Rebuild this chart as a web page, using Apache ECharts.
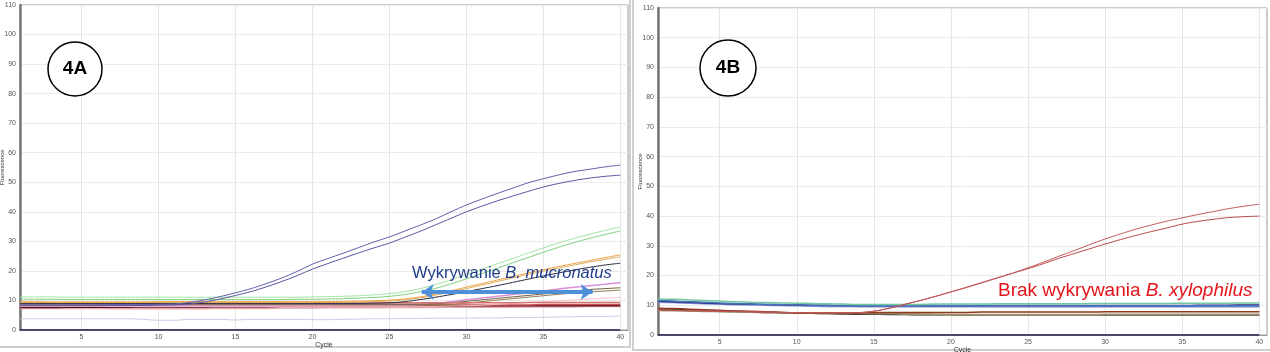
<!DOCTYPE html>
<html>
<head>
<meta charset="utf-8">
<script src="https://cdn.jsdelivr.net/npm/echarts@6/dist/echarts.min.js"></script>
<style>
  html, body { margin: 0; padding: 0; background: #fff; }
  #chart { width: 1270px; height: 352px; }
</style>
</head>
<body>
<div id="chart"></div>
<script>
// cycles 1..40
var cycles = [1,2,3,4,5,6,7,8,9,10,11,12,13,14,15,16,17,18,19,20,
              21,22,23,24,25,26,27,28,29,30,31,32,33,34,35,36,37,38,39,40];
var cycleTicks = [5,10,15,20,25,30,35,40];

// ---- panel 4A ----
var blueA1 = [8.5,8.5,8.5,8.5,8.5,8.5,8.6,8.6,8.6,8.7,8.8,9.3,10.2,11.3,12.6,14.0,15.7,17.6,19.8,22.3,
              24.2,26.0,27.9,29.8,31.5,33.5,35.5,37.6,40.0,42.3,44.3,46.2,48.0,49.8,51.2,52.5,53.6,54.4,55.2,55.8];
var blueA2 = [8.2,8.2,8.2,8.2,8.2,8.2,8.3,8.3,8.3,8.4,8.5,8.8,9.5,10.5,11.7,13.0,14.6,16.4,18.4,20.6,
              22.5,24.3,26.1,27.8,29.4,31.4,33.4,35.6,37.8,40.0,41.9,43.7,45.3,46.9,48.4,49.6,50.6,51.4,52.0,52.4];
var greenA1 = [11.2,11.2,11.2,11.1,11.1,11.1,11.1,11.1,11.1,11.1,11.1,11.1,11.1,11.1,11.1,11.1,11.1,11.1,11.1,11.2,
               11.3,11.4,11.6,11.9,12.3,13.0,14.0,15.4,17.0,18.8,20.6,22.4,24.2,26.0,27.8,29.5,31.0,32.4,33.7,34.9];
var greenA2 = [10.4,10.4,10.4,10.3,10.3,10.3,10.3,10.3,10.3,10.3,10.3,10.3,10.3,10.3,10.3,10.3,10.3,10.3,10.4,10.4,
               10.5,10.6,10.8,11.0,11.4,12.0,12.9,14.1,15.6,17.3,19.1,20.9,22.7,24.5,26.3,28.0,29.6,31.0,32.3,33.5];
var orangeA = [9.6,9.6,9.5,9.5,9.5,9.5,9.5,9.5,9.5,9.6,9.6,9.6,9.6,9.6,9.6,9.6,9.6,9.6,9.6,9.6,
               9.6,9.7,9.8,9.9,10.1,10.5,11.2,12.2,13.3,14.5,15.7,16.9,18.1,19.3,20.4,21.5,22.5,23.5,24.5,25.4];
var tanA = [9.3,9.3,9.3,9.3,9.3,9.3,9.3,9.3,9.3,9.3,9.3,9.3,9.3,9.3,9.3,9.3,9.3,9.3,9.3,9.3,
            9.4,9.4,9.5,9.6,9.8,10.2,10.9,11.8,12.9,14.0,15.2,16.4,17.6,18.8,19.9,21.0,22.0,23.0,23.9,24.8];
var blackA = [9.0,9.0,9.0,9.0,9.0,9.0,9.0,9.0,9.0,9.0,9.0,9.0,9.0,9.0,9.0,9.0,9.0,9.0,9.0,9.0,
              9.0,9.0,9.0,9.1,9.2,9.6,10.3,11.1,12.0,13.0,14.0,15.0,16.1,17.2,18.3,19.3,20.3,21.2,22.0,22.6];
var violetA = [8.0,8.0,8.0,8.0,8.0,8.0,8.1,8.1,8.1,8.2,8.2,8.2,8.2,8.3,8.3,8.3,8.3,8.4,8.4,8.4,
               8.4,8.5,8.5,8.5,8.5,8.5,8.6,9.0,9.6,10.2,10.8,11.4,12.0,12.6,13.2,13.9,14.5,15.0,15.5,16.0];
var oliveA1 = [8.8,8.8,8.8,8.8,8.8,8.8,8.8,8.8,8.8,8.8,8.8,8.8,8.8,8.8,8.8,8.8,8.8,8.8,8.8,8.8,
               8.8,8.8,8.8,8.8,8.8,8.8,8.8,8.9,9.2,9.7,10.2,10.7,11.2,11.7,12.2,12.7,13.2,13.7,14.0,14.3];
var oliveA2 = [8.6,8.6,8.6,8.6,8.6,8.6,8.6,8.6,8.6,8.6,8.6,8.6,8.6,8.6,8.6,8.6,8.6,8.6,8.6,8.6,
               8.6,8.6,8.6,8.6,8.6,8.6,8.6,8.6,8.7,9.1,9.6,10.1,10.6,11.1,11.6,12.1,12.5,12.9,13.2,13.5];
var lightPinkA = [8.0,8.0,8.0,8.0,8.0,8.0,8.0,8.0,8.0,8.0,8.0,8.0,8.0,8.0,8.0,8.0,8.0,8.0,8.0,8.0,
                  8.0,8.0,8.0,8.0,8.0,8.0,8.0,8.0,8.1,8.2,8.4,8.7,9.0,9.3,9.6,9.9,10.2,10.5,10.8,11.0];
var redA1 = [9.0,9.0,9.0,9.0,9.0,9.0,9.0,9.0,9.0,9.0,9.0,9.0,9.0,9.1,9.1,9.1,9.1,9.1,9.1,9.1,
             9.1,9.1,9.1,9.1,9.2,9.2,9.2,9.2,9.2,9.2,9.2,9.2,9.2,9.3,9.3,9.3,9.3,9.3,9.3,9.3];
var redA2 = [8.2,8.2,8.2,8.2,8.2,8.2,8.2,8.2,8.2,8.2,8.3,8.3,8.3,8.3,8.3,8.3,8.3,8.4,8.4,8.4,
             8.4,8.4,8.4,8.4,8.4,8.5,8.5,8.5,8.5,8.5,8.5,8.5,8.5,8.5,8.6,8.6,8.6,8.6,8.6,8.6];
var maroonA = [7.6,7.6,7.6,7.7,7.7,7.7,7.7,7.7,7.8,7.8,7.8,7.8,7.8,7.9,7.9,7.9,7.9,8.0,8.0,8.0,
               8.0,8.0,8.0,8.1,8.1,8.1,8.1,8.1,8.1,8.2,8.2,8.2,8.2,8.2,8.2,8.2,8.2,8.2,8.2,8.2];
var salmonA = [7.4,7.4,7.4,7.4,7.4,7.4,7.3,7.3,7.3,7.3,7.3,7.3,7.3,7.4,7.4,7.4,7.4,7.5,7.5,7.5,
               7.6,7.6,7.6,7.6,7.7,7.7,7.7,7.7,7.8,7.8,7.8,7.8,7.8,7.9,7.9,7.9,7.9,8.0,8.0,8.0];
var lightBlueA = [3.8,3.8,3.8,3.8,3.8,3.8,3.8,3.8,3.6,3.3,3.3,3.6,3.6,3.6,3.4,3.6,3.6,3.6,3.6,3.5,
                  3.5,3.6,3.7,3.8,3.8,3.9,3.9,4.0,4.0,4.0,4.1,4.1,4.2,4.2,4.3,4.4,4.5,4.6,4.6,4.7];
var zeroA = [0,0,0,0,0,0,0,0,0,0,0,0,0,0,0,0,0,0,0,0,0,0,0,0,0,0,0,0,0,0,0,0,0,0,0,0,0,0,0,0];

// ---- panel 4B ----
var redB1 = [8.4,8.3,8.2,8.1,8.0,7.9,7.8,7.7,7.6,7.5,7.4,7.4,7.4,7.5,8.0,9.0,10.3,11.6,13.0,14.5,
             16.0,17.6,19.2,20.8,22.6,24.5,26.5,28.4,30.4,32.3,34.0,35.6,37.0,38.3,39.4,40.5,41.5,42.5,43.3,44.0];
var redB2 = [8.4,8.3,8.2,8.1,8.0,7.9,7.8,7.7,7.6,7.5,7.4,7.4,7.4,7.5,8.0,9.0,10.3,11.6,13.0,14.5,
             16.0,17.6,19.2,20.8,22.3,24.0,25.8,27.4,29.0,30.6,32.1,33.5,34.8,36.0,37.3,38.2,38.9,39.5,39.8,40.0];
var greenB = [12.1,12.0,11.8,11.6,11.4,11.2,11.0,10.9,10.8,10.7,10.6,10.5,10.4,10.3,10.3,10.3,10.3,10.3,10.4,10.4,
              10.4,10.4,10.5,10.5,10.5,10.5,10.5,10.5,10.6,10.6,10.6,10.6,10.6,10.6,10.7,10.7,10.7,10.7,10.8,10.8];
var blueB = [11.6,11.4,11.2,11.0,10.8,10.6,10.4,10.3,10.2,10.1,10.0,9.9,9.8,9.8,9.8,9.8,9.8,9.8,9.8,9.8,
             9.8,9.8,9.8,9.8,9.8,9.8,9.8,9.8,9.8,9.8,9.8,9.8,9.8,9.8,9.8,9.8,9.8,9.8,9.8,9.8];
var navyB = [11.4,11.2,11.0,10.8,10.6,10.5,10.4,10.3,10.2,10.1,10.0,10.0,9.9,9.9,9.9,9.9,9.9,9.9,9.9,9.9,
             9.9,9.9,9.9,9.9,9.9,9.9,9.9,9.9,9.9,9.9,9.9,9.9,9.9,9.9,9.9,10.0,10.0,10.0,10.1,10.1];
var lavenderB = [11.0,10.9,10.7,10.5,10.4,10.2,10.1,10.0,9.9,9.8,9.7,9.6,9.6,9.5,9.5,9.5,9.5,9.5,9.5,9.5,
                 9.5,9.5,9.5,9.5,9.5,9.5,9.5,9.5,9.5,9.5,9.5,9.5,9.5,9.5,9.5,9.5,9.5,9.5,9.5,9.5];
var brownB = [9.0,8.9,8.7,8.5,8.3,8.1,8.0,7.8,7.6,7.4,7.3,7.3,7.3,7.4,7.5,7.6,7.6,7.6,7.6,7.6,
              7.6,7.7,7.7,7.7,7.7,7.7,7.7,7.7,7.7,7.8,7.8,7.8,7.8,7.8,7.8,7.8,7.8,7.8,7.8,7.8];
var tanB = [8.3,8.2,8.1,8.0,7.9,7.8,7.7,7.6,7.5,7.4,7.4,7.3,7.3,7.3,7.2,7.2,7.1,7.0,6.9,6.8,
            6.8,6.8,6.8,6.8,6.8,6.8,6.8,6.8,6.8,6.9,6.9,6.9,6.9,6.9,6.9,6.9,6.9,6.9,6.9,6.9];
var blackB = [8.6,8.5,8.4,8.2,8.0,7.9,7.7,7.6,7.5,7.4,7.3,7.2,7.1,7.0,7.0,6.9,6.9,6.8,6.8,6.8,
              6.7,6.7,6.7,6.7,6.7,6.7,6.7,6.7,6.7,6.7,6.7,6.7,6.7,6.7,6.7,6.7,6.7,6.7,6.7,6.7];
var zeroB = [0,0,0,0,0,0,0,0,0,0,0,0,0,0,0,0,0,0,0,0,0,0,0,0,0,0,0,0,0,0,0,0,0,0,0,0,0,0,0,0];

// arrow in 4A (cycle from, cycle to, fluorescence)
var arrowA = [27.1, 38.2, 12.9];

function pairs(vals) {
    return cycles.map(function (c, i) { return [c, vals[i]]; });
}

function curve(name, vals, color, width, gi) {
    return {
        name: name,
        type: 'line',
        xAxisIndex: gi,
        yAxisIndex: gi,
        data: pairs(vals),
        showSymbol: false,
        smooth: 0.3,
        lineStyle: { color: color, width: width },
        silent: true,
        animation: false
    };
}

var fontTick = 'Liberation Sans';

function makeX(gi) {
    return {
        type: 'value',
        gridIndex: gi,
        min: 1,
        max: 40.5,
        name: 'Cycle',
        nameLocation: 'middle',
        nameGap: 12,
        nameMoveOverlap: false,
        nameTextStyle: { fontSize: 7, color: '#333', fontFamily: fontTick },
        axisLine: { show: true, lineStyle: { color: '#999', width: 1 } },
        axisTick: { show: false, customValues: cycleTicks },
        axisLabel: { customValues: cycleTicks, fontSize: 7, color: '#555', fontFamily: fontTick, margin: 4 },
        splitLine: { show: true, lineStyle: { color: '#e6e6e6', width: 1 } }
    };
}

function makeY(gi) {
    return {
        type: 'value',
        gridIndex: gi,
        min: 0,
        max: 110,
        interval: 10,
        name: 'Fluorescence',
        nameLocation: 'middle',
        nameGap: 15,
        nameMoveOverlap: false,
        nameTextStyle: { fontSize: 6, color: '#333', fontFamily: fontTick },
        axisLine: { show: true, lineStyle: { color: '#777', width: 2.5 } },
        axisTick: { show: false },
        axisLabel: { fontSize: 7, color: '#555', fontFamily: fontTick, margin: 4 },
        splitLine: { show: true, lineStyle: { color: '#ececec', width: 1 } }
    };
}

var seriesA = [
    curve('lightBlueA', lightBlueA, '#c4cde6', 1, 0),
    curve('salmonA', salmonA, '#e8a8a8', 2, 0),
    curve('maroonA', maroonA, '#5a0f2a', 1.5, 0),
    curve('redA2', redA2, '#c85050', 1.5, 0),
    curve('violetA', violetA, '#d890d8', 1.5, 0),
    curve('lightPinkA', lightPinkA, '#f2c4cc', 1, 0),
    curve('oliveA2', oliveA2, '#8c7a4a', 1, 0),
    curve('oliveA1', oliveA1, '#6e6040', 1, 0),
    curve('redA1', redA1, '#d87070', 1.5, 0),
    curve('blackA', blackA, '#2a2a44', 1, 0),
    curve('tanA', tanA, '#d6b060', 1, 0),
    curve('orangeA', orangeA, '#eea040', 1, 0),
    curve('greenA2', greenA2, '#7ed07e', 1, 0),
    curve('greenA1', greenA1, '#a0e6a0', 1, 0),
    curve('blueA2', blueA2, '#5656a0', 1, 0),
    curve('blueA1', blueA1, '#6060aa', 1, 0),
    curve('zeroA', zeroA, '#14144a', 1.5, 0)
];
seriesA.push({
    name: 'arrowA',
    type: 'line',
    xAxisIndex: 0,
    yAxisIndex: 0,
    data: [],
    silent: true,
    animation: false,
    markLine: {
        silent: true,
        animation: false,
        symbol: ['arrow', 'arrow'],
        symbolSize: [12, 12],
        label: { show: false },
        lineStyle: { color: '#4f8fd8', width: 4, type: 'solid' },
        data: [[{ coord: [arrowA[0], arrowA[2]] }, { coord: [arrowA[1], arrowA[2]] }]]
    }
});

var seriesB = [
    curve('blackB', blackB, '#1e1e1e', 1.5, 1),
    curve('tanB', tanB, '#a09070', 2, 1),
    curve('brownB', brownB, '#8c3a20', 1.5, 1),
    curve('lavenderB', lavenderB, '#7a88d0', 1.5, 1),
    curve('navyB', navyB, '#1e2e80', 1.5, 1),
    curve('blueB', blueB, '#4a70b8', 1.5, 1),
    curve('greenB', greenB, '#70c8a0', 1.5, 1),
    curve('redB2', redB2, '#b84848', 1, 1),
    curve('redB1', redB1, '#c05a5a', 1, 1),
    curve('zeroB', zeroB, '#14144a', 1.5, 1)
];

var chart = echarts.init(document.getElementById('chart'), null, { renderer: 'canvas' });

chart.setOption({
    backgroundColor: '#ffffff',
    animation: false,
    grid: [
        { left: 20, top: 5, width: 608, height: 325, show: true, borderColor: '#999', borderWidth: 1,
          backgroundColor: '#fff', containLabel: false, outerBoundsMode: 'none' },
        { left: 658, top: 8, width: 609, height: 327, show: true, borderColor: '#999', borderWidth: 1,
          backgroundColor: '#fff', containLabel: false, outerBoundsMode: 'none' }
    ],
    xAxis: [makeX(0), makeX(1)],
    yAxis: [makeY(0), makeY(1)],
    series: seriesA.concat(seriesB),
    graphic: [
        // panel frames
        { type: 'rect', shape: { x: -1, y: -2, width: 631, height: 349 }, style: { fill: 'none', stroke: '#cfcfcf', lineWidth: 2 }, silent: true, z: -1 },
        { type: 'rect', shape: { x: 633, y: -2, width: 639, height: 352 }, style: { fill: 'none', stroke: '#cfcfcf', lineWidth: 2 }, silent: true, z: -1 },
        // panel badges
        { type: 'circle', shape: { cx: 75, cy: 69, r: 27 }, style: { fill: '#fff', stroke: '#000', lineWidth: 1.5 }, z: 100 },
        { type: 'text', x: 75, y: 69, style: { text: '4A', fontSize: 19, fontWeight: 'bold', fontFamily: 'Liberation Sans', fill: '#000', align: 'center', verticalAlign: 'middle' }, z: 101 },
        { type: 'circle', shape: { cx: 728, cy: 68, r: 28 }, style: { fill: '#fff', stroke: '#000', lineWidth: 1.5 }, z: 100 },
        { type: 'text', x: 728, y: 68, style: { text: '4B', fontSize: 19, fontWeight: 'bold', fontFamily: 'Liberation Sans', fill: '#000', align: 'center', verticalAlign: 'middle' }, z: 101 },
        // annotations
        {
            type: 'text', x: 412, y: 273, z: 101,
            style: {
                text: '{n|Wykrywanie }{i|B. mucronatus}',
                verticalAlign: 'middle',
                rich: {
                    n: { fontSize: 16.5, fontFamily: 'Liberation Sans', fill: '#1f3d8c' },
                    i: { fontSize: 16.5, fontFamily: 'Liberation Sans', fontStyle: 'italic', fill: '#1f3d8c' }
                }
            }
        },
        {
            type: 'text', x: 998, y: 291, z: 101,
            style: {
                text: '{n|Brak wykrywania }{i|B. xylophilus}',
                verticalAlign: 'middle',
                rich: {
                    n: { fontSize: 19, fontFamily: 'Liberation Sans', fill: '#e3141c' },
                    i: { fontSize: 19, fontFamily: 'Liberation Sans', fontStyle: 'italic', fill: '#e3141c' }
                }
            }
        }
    ]
});
</script>
</body>
</html>
